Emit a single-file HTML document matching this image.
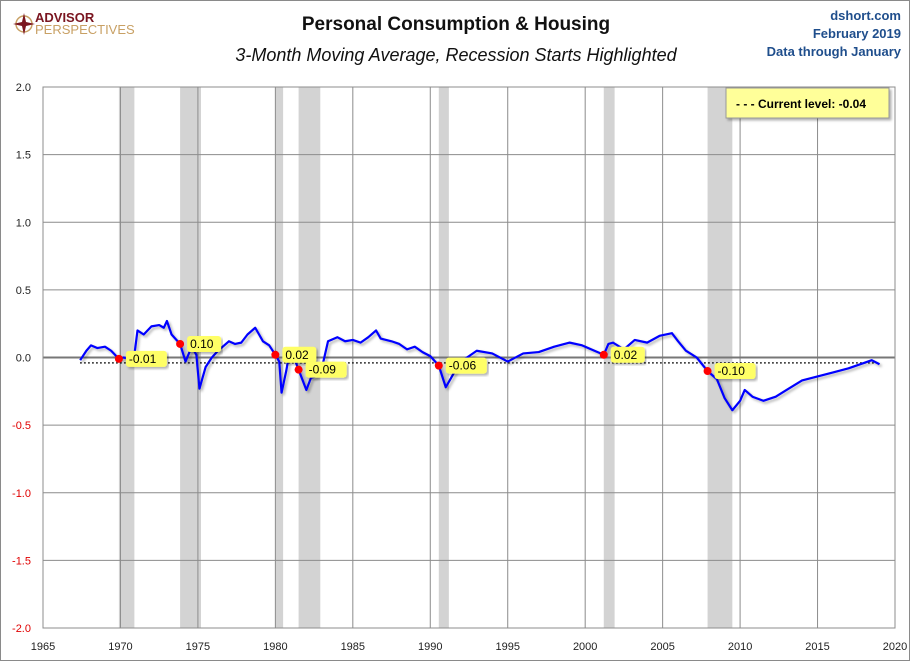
<!DOCTYPE html>
<html><head><meta charset="utf-8"><style>
body{margin:0;background:#fff;font-family:"Liberation Sans",sans-serif}
#wrap{position:relative;width:908px;height:659px;border:1px solid #8a8a8a;overflow:hidden}
.t{position:absolute;white-space:nowrap}
</style></head><body>
<div id="wrap">
<div class="t" style="left:12px;top:10px">
<svg width="22" height="22" style="position:absolute;left:0;top:2px"><circle cx="11" cy="11" r="8" fill="none" stroke="#c8a064" stroke-width="1.5"/><polygon points="11,0 13,9 22,11 13,13 11,22 9,13 0,11 9,9" fill="#7a1520"/></svg>
<div style="position:absolute;left:22px;top:0;color:#7a1520;font-weight:bold;font-size:13px;line-height:13px">ADVISOR</div>
<div style="position:absolute;left:22px;top:12px;color:#c8a064;font-size:13px;line-height:13px">PERSPECTIVES</div>
</div>
<div class="t" style="left:0;width:910px;text-align:center;top:13px;font-size:19px;font-weight:bold;color:#111">Personal Consumption &amp; Housing</div>
<div class="t" style="left:0;width:910px;text-align:center;top:44px;font-size:18px;font-style:italic;color:#111">3-Month Moving Average, Recession Starts Highlighted</div>
<div class="t" style="right:8px;top:6px;text-align:right;font-size:13px;font-weight:bold;color:#1f4e8c;line-height:18px">dshort.com<br>February 2019<br>Data through January</div>
<svg id="chart" width="910" height="661" style="position:absolute;left:-1px;top:-1px">
<defs><filter id="sh" x="-5%" y="-20%" width="110%" height="140%"><feDropShadow dx="2" dy="2" stdDeviation="1.2" flood-color="#000" flood-opacity="0.3"/></filter></defs>
</svg>
</div>
<script>
const recStart=[1969.9,1973.85,1980.0,1981.5,1990.55,2001.2,2007.9];
const recEnd=[1970.9,1975.2,1980.5,1982.9,1991.2,2001.9,2009.5];
const recVal=[-0.01,0.10,0.02,-0.09,-0.06,0.02,-0.10];
const years=[1967.4,1967.8,1968.1,1968.5,1969,1969.4,1969.9,1970.2,1970.55,1970.9,1971.1,1971.5,1972,1972.5,1972.8,1973,1973.3,1973.85,1974.2,1974.6,1974.9,1975.1,1975.5,1975.9,1976.3,1977,1977.4,1977.8,1978.2,1978.7,1979.2,1979.6,1980.0,1980.25,1980.4,1980.7,1980.9,1981.2,1981.5,1982,1982.3,1982.6,1983.1,1983.4,1984,1984.5,1985,1985.5,1986,1986.5,1986.8,1987.5,1988,1988.5,1989,1989.5,1990,1990.55,1991,1991.5,1991.95,1992.5,1993,1994,1995,1996,1997,1998,1999,1999.8,2000.6,2001.2,2001.5,2001.8,2002.5,2003.2,2004,2004.8,2005.6,2006,2006.5,2007.2,2007.9,2008.5,2009,2009.5,2010,2010.3,2010.8,2011.5,2012.3,2013,2014,2015,2016,2017,2018,2018.5,2019];
const values=[-0.02,0.05,0.09,0.07,0.08,0.05,-0.01,0.0,-0.01,0.02,0.2,0.17,0.23,0.24,0.22,0.27,0.17,0.10,-0.03,0.08,0.02,-0.23,-0.07,0.0,0.05,0.12,0.1,0.11,0.17,0.22,0.12,0.09,0.02,-0.03,-0.26,-0.1,0.03,0.0,-0.09,-0.24,-0.15,-0.14,-0.03,0.12,0.15,0.12,0.13,0.11,0.15,0.2,0.14,0.12,0.1,0.06,0.08,0.04,0.01,-0.06,-0.22,-0.12,-0.03,0.01,0.05,0.03,-0.03,0.03,0.04,0.08,0.11,0.09,0.05,0.02,0.1,0.11,0.06,0.13,0.11,0.16,0.18,0.12,0.05,0.0,-0.10,-0.16,-0.3,-0.39,-0.32,-0.24,-0.29,-0.32,-0.29,-0.24,-0.17,-0.14,-0.11,-0.08,-0.04,-0.02,-0.05];
const yTicks=[2.0,1.5,1.0,0.5,0.0,-0.5,-1.0,-1.5,-2.0];
const xTicks=[1965,1970,1975,1980,1985,1990,1995,2000,2005,2010,2015,2020];
const currentLevel=-0.04;

const L=43,R=895,T=87,B=628;
const X=y=>L+(y-1965)*(R-L)/55;
const Y=v=>T+(2-v)*(B-T)/4;
const svg=document.getElementById('chart');
const NS='http://www.w3.org/2000/svg';
function mk(tag,at,parent){const e=document.createElementNS(NS,tag);for(const k in at)e.setAttribute(k,at[k]);(parent||svg).appendChild(e);return e;}
for(let i=0;i<recStart.length;i++){
 const r=mk('rect',{x:X(recStart[i]),y:T,width:X(recEnd[i])-X(recStart[i]),height:B-T,fill:'#d3d3d3'});
 
 
}
xTicks.forEach(t=>{
 const l=mk('line',{x1:X(t),x2:X(t),y1:T,y2:B,stroke:'#8c8c8c','stroke-width':1});
 
 
 const tx=mk('text',{x:X(t),y:B+22,'text-anchor':'middle','font-size':11,fill:'#222','font-family':'Liberation Sans, sans-serif'});
 tx.textContent=t;
 
 
});
yTicks.forEach(t=>{
 const l=mk('line',{x1:L,x2:R,y1:Y(t),y2:Y(t),stroke:t===0?'#777':'#8c8c8c','stroke-width':t===0?2:1});
 
 
 const tx=mk('text',{x:L-12,y:Y(t)+4,'text-anchor':'end','font-size':11,fill:t<0?'#e00000':'#222','font-family':'Liberation Sans, sans-serif'});
 tx.textContent=t.toFixed(1);
 
 
});
const fr=mk('rect',{x:L,y:T,width:R-L,height:B-T,fill:'none',stroke:'#8c8c8c'});


const cl=mk('line',{x1:X(years[0]),x2:X(years[years.length-1]),y1:Y(currentLevel),y2:Y(currentLevel),stroke:'#000','stroke-width':1.5,'stroke-dasharray':'1.5,2.5'});


const pl=mk('polyline',{points:years.map((y,i)=>X(y)+','+Y(values[i])).join(' '),fill:'none',stroke:'#0000ff','stroke-width':2.2,'stroke-linejoin':'round',filter:'url(#sh)'});


recVal.forEach((v,i)=>{
 const c=mk('circle',{cx:X(recStart[i]),cy:Y(v),r:4,fill:'#ff0000'});
 
 
 const s=v.toFixed(2);
 const w=s.length*7+6;
 const bx=mk('rect',{x:X(recStart[i])+7,y:Y(v)-8,width:w,height:16,rx:3,fill:'#ffff66',filter:'url(#sh)'});
 
 
 const tx=mk('text',{x:X(recStart[i])+10,y:Y(v)+4,'font-size':12,fill:'#000','font-family':'Liberation Sans, sans-serif'});
 tx.textContent=s;
 
 
});
const lb=mk('rect',{x:726,y:88,width:163,height:30,fill:'#ffff99',stroke:'#999',filter:'url(#sh)'});


const lt=mk('text',{x:736,y:108,'font-size':12,'font-weight':'bold',fill:'#000','font-family':'Liberation Sans, sans-serif'});
lt.textContent='- - -  Current level:  '+currentLevel.toFixed(2);


</script>
</body></html>
